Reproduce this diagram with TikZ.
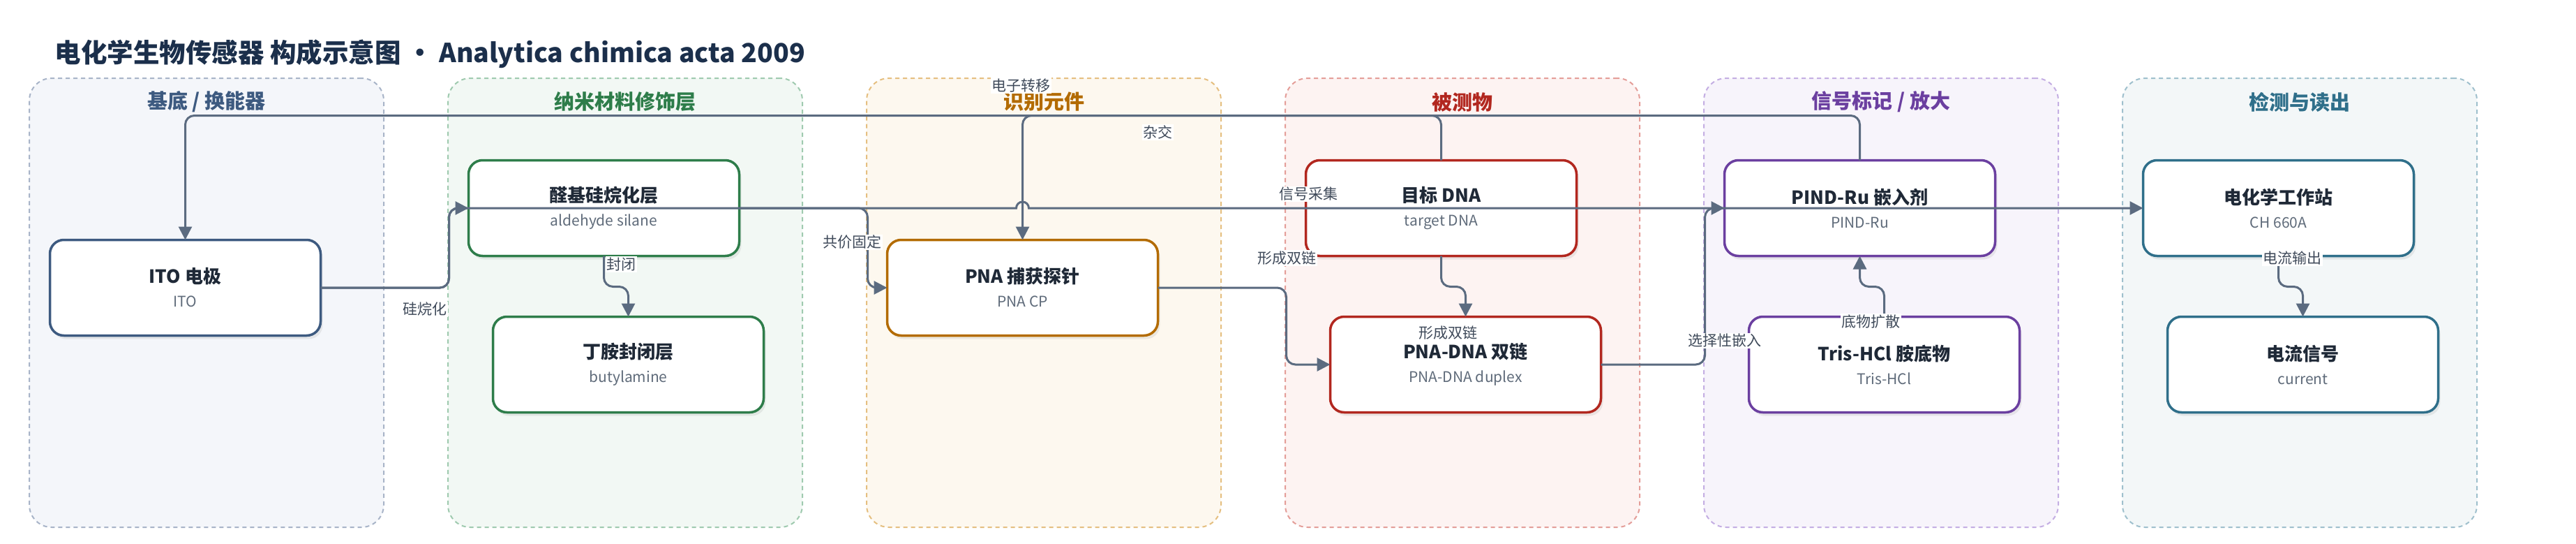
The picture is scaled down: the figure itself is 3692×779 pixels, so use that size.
\documentclass[tikz,border=0pt]{standalone}
\usepackage{fontspec}
\setmainfont{Noto Sans CJK SC}
\usepackage{tikz}
\usepackage{xcolor}
\usetikzlibrary{arrows.meta, positioning, calc, shadows}

\definecolor{titleblue}{HTML}{1B2F4B}
\definecolor{edgegray}{HTML}{5B6B80}
\definecolor{nodetext}{HTML}{1F2937}
\definecolor{subgray}{HTML}{5F6B7A}
\definecolor{taggray}{HTML}{3F4A5A}
\definecolor{baseC}{HTML}{3D5A80}
\definecolor{baseFill}{HTML}{F4F6FA}
\definecolor{baseLine}{HTML}{A8B4C8}
\definecolor{nanoC}{HTML}{2E7D4A}
\definecolor{nanoFill}{HTML}{F2F8F4}
\definecolor{nanoLine}{HTML}{9FCAAF}
\definecolor{recogC}{HTML}{B36B00}
\definecolor{recogFill}{HTML}{FDF8EF}
\definecolor{recogLine}{HTML}{E5BF80}
\definecolor{anaC}{HTML}{B2271F}
\definecolor{anaFill}{HTML}{FDF3F2}
\definecolor{anaLine}{HTML}{E49E99}
\definecolor{sigC}{HTML}{6B3FA0}
\definecolor{sigFill}{HTML}{F7F4FB}
\definecolor{sigLine}{HTML}{C4AEE3}
\definecolor{readC}{HTML}{2F6F8A}
\definecolor{readFill}{HTML}{F3F7F8}
\definecolor{readLine}{HTML}{9FC0CD}

\newcommand{\subtext}{\fontsize{21pt}{34pt}\selectfont\mdseries\color{subgray}}

\tikzset{
    zone/.style={
        rectangle,
        rounded corners=32pt,
        line width=2pt,
        dash pattern=on 6pt off 5pt,
        minimum width=508pt,
        minimum height=643pt,
        outer sep=0pt,
        anchor=north west
    },
    zonetitle/.style={
        font=\fontsize{29pt}{34pt}\selectfont\bfseries
    },
    block/.style={
        rectangle,
        rounded corners=20pt,
        fill=white,
        line width=3.5pt,
        minimum width=388pt,
        minimum height=137pt,
        outer sep=0pt,
        align=center,
        text=nodetext,
        font=\fontsize{26pt}{34pt}\selectfont,
        execute at begin node={\rule{0pt}{33pt}},
        drop shadow={shadow xshift=3pt, shadow yshift=-5pt, opacity=0.14}
    },
    tag/.style={
        fill=white,
        inner sep=1.5pt,
        text=taggray,
        font=\fontsize{21pt}{24pt}\selectfont
    },
    arrow/.style={draw=edgegray, line width=3pt, rounded corners=13pt, -{Triangle[length=19pt, width=19pt]}}
}

\begin{document}
\begin{tikzpicture}[x=1pt, y=1pt]

        \path [use as bounding box, fill=white] (0,0) rectangle (3692,-779);

        \node (title) [anchor=west, text=titleblue, font=\fontsize{37.5pt}{44pt}\selectfont\bfseries] at (75,-77) {电化学生物传感器 构成示意图 • Analytica chimica acta 2009};

        \node (z1) [zone, fill=baseFill, draw=baseLine] at (42,-112) {};
        \node (z2) [zone, fill=nanoFill, draw=nanoLine, right=92pt of z1] {};
        \node (z3) [zone, fill=recogFill, draw=recogLine, right=92pt of z2] {};
        \node (z4) [zone, fill=anaFill, draw=anaLine, right=92pt of z3] {};
        \node (z5) [zone, fill=sigFill, draw=sigLine, right=92pt of z4] {};
        \node (z6) [zone, fill=readFill, draw=readLine, right=92pt of z5] {};

        \node (z1t) [zonetitle, text=baseC] at ([yshift=-34pt]z1.north) {基底 / 换能器};
        \node (z2t) [zonetitle, text=nanoC] at ([yshift=-34pt]z2.north) {纳米材料修饰层};
        \node (z3t) [zonetitle, text=recogC] at ([yshift=-34pt]z3.north) {识别元件};
        \node (z4t) [zonetitle, text=anaC] at ([yshift=-34pt]z4.north) {被测物};
        \node (z5t) [zonetitle, text=sigC] at ([yshift=-34pt]z5.north) {信号标记 / 放大};
        \node (z6t) [zonetitle, text=readC] at ([yshift=-34pt]z6.north) {检测与读出};

        \node (ito) [block, draw=baseC] at (265.5,-412) {{\bfseries ITO 电极}\\{\subtext ITO}};
        \node (ald) [block, draw=nanoC, right=212pt of ito, yshift=114pt] {{\bfseries 醛基硅烷化层}\\{\subtext aldehyde silane}};
        \node (but) [block, draw=nanoC, below=87pt of ald, xshift=35pt] {{\bfseries 丁胺封闭层}\\{\subtext butylamine}};
        \node (pna) [block, draw=recogC, right=212pt of ald, yshift=-114pt] {{\bfseries PNA 捕获探针}\\{\subtext PNA CP}};
        \node (tgt) [block, draw=anaC, right=212pt of pna, yshift=114pt] {{\bfseries 目标 DNA}\\{\subtext target DNA}};
        \node (dup) [block, draw=anaC, below=87pt of tgt, xshift=35pt] {{\bfseries PNA-DNA 双链}\\{\subtext PNA-DNA duplex}};
        \node (pind) [block, draw=sigC, right=212pt of tgt] {{\bfseries PIND-Ru 嵌入剂}\\{\subtext PIND-Ru}};
        \node (tris) [block, draw=sigC, below=87pt of pind, xshift=35pt] {{\bfseries Tris-HCl 胺底物}\\{\subtext Tris-HCl}};
        \node (ws) [block, draw=readC, right=212pt of pind] {{\bfseries 电化学工作站}\\{\subtext CH 660A}};
        \node (cur) [block, draw=readC, below=87pt of ws, xshift=35pt] {{\bfseries 电流信号}\\{\subtext current}};

        \draw [arrow] (tgt.north) -- ++(0,64) -| (pna.north);
        \draw [arrow] (pind.north) -- ++(0,64) -| (ito.north);
        \draw [arrow] (ito.east) -| ([xshift=-28pt]ald.west) -- (ald.west);
        \draw [arrow] (ito.east) -| ([xshift=-28pt]ald.west) [sharp corners] -- ($(pna.north |- ald.west)+(-9,0)$) arc[start angle=180, end angle=0, radius=9pt] -- (ws.west);
        \draw [arrow] (ald.east) -| ([xshift=-28pt]pna.west) -- (pna.west);
        \draw [arrow] (ald.south) |- ([yshift=43pt]but.north) -- (but.north);
        \draw [arrow] (pna.east) -| ([xshift=-63pt]dup.west) -- (dup.west);
        \draw [arrow] (tgt.south) |- ([yshift=43pt]dup.north) -- (dup.north);
        \draw [arrow] (dup.east) -| ([xshift=-28pt]pind.west) -- (pind.west);
        \draw [arrow] (tris.north) |- ([yshift=-44pt]pind.south) -- (pind.south);
        \draw [arrow] (ws.south) |- ([yshift=43pt]cur.north) -- (cur.north);

        \node (l1) [tag] at ($(ito.east)+(149,-31)$) {硅烷化};
        \node (l2) [tag] at ($(ald.south)+(25,-12)$) {封闭};
        \node (l3) [tag] at ($(pna.west)+(-50,65)$) {共价固定};
        \node (l4) [tag] at ($(pna.north)+(-2,221)$) {电子转移};
        \node (l5) [tag] at ($(pna.north)+(194,154)$) {杂交};
        \node (l6) [tag] at ($(tgt.west)+(4,20)$) {信号采集};
        \node (l7) [tag] at ($(tgt.south west)+(-27,-3)$) {形成双链};
        \node (l8) [tag] at ($(dup.north)+(-25,-23)$) {形成双链};
        \node (l9) [tag] at ($(tris.west)+(-35,34)$) {选择性嵌入};
        \node (l10) [tag] at ($(tris.north)+(-19,-7)$) {底物扩散};
        \node (l11) [tag] at ($(ws.south)+(20,-3)$) {电流输出};

    \end{tikzpicture}
\end{document}
